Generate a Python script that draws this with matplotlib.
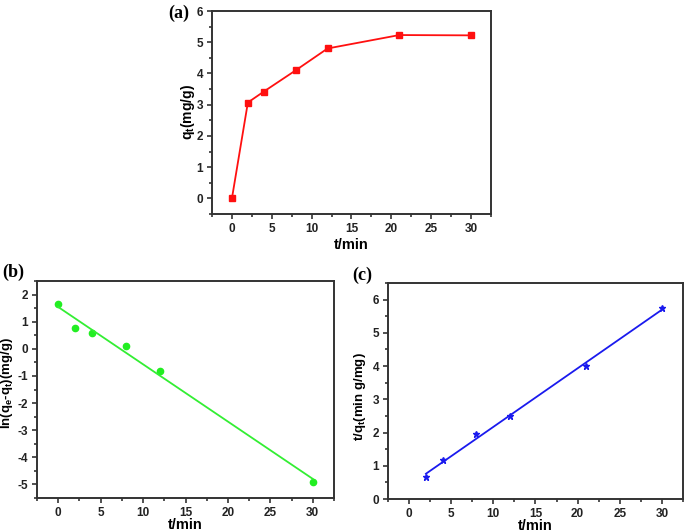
import numpy as np
import matplotlib
matplotlib.use("Agg")
import matplotlib.pyplot as plt
from matplotlib.ticker import MultipleLocator

# Data
t_a = [0, 2, 4, 8, 12, 21, 30]
q_t = [0, 3.07, 3.42, 4.10, 4.80, 5.23, 5.22]

t_b = [0, 2, 4, 8, 12, 30]
ln_qe_qt = [1.65, 0.77, 0.60, 0.12, -0.82, -4.90]

t_c = [2, 4, 8, 12, 21, 30]
t_over_q = [0.65, 1.17, 1.95, 2.50, 4.01, 5.74]

plt.rcParams['font.family'] = ['Liberation Sans', 'DejaVu Sans']
plt.rcParams['font.weight'] = 'bold'
plt.rcParams['axes.unicode_minus'] = False
plt.rcParams['mathtext.fontset'] = 'custom'
plt.rcParams['mathtext.rm'] = 'Liberation Sans:bold'
plt.rcParams['mathtext.bf'] = 'Liberation Sans:bold'

W, H = 685, 532
fig = plt.figure(figsize=(W / 100, H / 100), dpi=100)

def ax_px(l, t, r, b):
    return fig.add_axes([l / W, 1 - b / H, (r - l) / W, (b - t) / H])

def style(ax, xlim, ylim, ymaj, ymin):
    ax.set_xlim(*xlim)
    ax.set_ylim(*ylim)
    ax.xaxis.set_major_locator(MultipleLocator(5))
    ax.xaxis.set_minor_locator(MultipleLocator(2.5))
    ax.yaxis.set_major_locator(MultipleLocator(ymaj))
    ax.yaxis.set_minor_locator(MultipleLocator(ymin))
    ax.tick_params(which='both', direction='out', top=False, right=False,
                   width=1.1, colors='#222222', labelcolor='#222222')
    ax.tick_params(which='major', length=3.5, labelsize=8.5, pad=3)
    ax.tick_params(which='minor', length=2.5)
    for s in ax.spines.values():
        s.set_linewidth(1.4)
        s.set_color('#333333')

def labels(ax, xl, yl, ysize, ylx, yly, xly):
    ax.set_xlabel(xl, fontsize=10.5, fontweight='bold')
    ax.set_ylabel(yl, fontsize=ysize, fontweight='bold')
    ax.yaxis.set_label_coords(ylx, yly)
    ax.xaxis.set_label_coords(0.5, xly)

# (a)
ax1 = ax_px(212, 11, 491, 214)
ax1.plot(t_a, q_t, color='#ff1010', marker='s', markersize=4.5, linewidth=1.3)
style(ax1, (-2.5, 32.5), (-0.5, 6), 1, 0.5)
labels(ax1, 't/min', 'q$_\\mathrm{t}$(mg/g)', 10, -0.055, 0.5, -0.118)
fig.text(168 / W, 1 - 13 / H, '(a)', family=['Liberation Serif'], fontweight='bold',
         fontsize=13, va='center', ha='left')

# (b)
ax2 = ax_px(37, 281, 334, 498)
ax2.plot(t_b, ln_qe_qt, 'o', color='#22ee22', markersize=4.5)
pb = np.polyfit(t_b, ln_qe_qt, 1)
xb = np.array([t_b[0], t_b[-1]])
ax2.plot(xb, np.polyval(pb, xb), color='#33ee33', linewidth=1.3)
style(ax2, (-2.5, 32.5), (-5.5, 2.5), 1, 0.5)
labels(ax2, 't/min', 'ln(q$_\\mathrm{e}$-q$_\\mathrm{t}$)(mg/g)', 9.5, -0.074, 0.53, -0.094)
fig.text(2 / W, 1 - 272 / H, '(b)', family=['Liberation Serif'], fontweight='bold',
         fontsize=13, va='center', ha='left')

# (c)
ax3 = ax_px(388, 283, 683, 499)
ax3.plot(t_c, t_over_q, '*', color='#1a1aee', markersize=5)
pc = np.polyfit(t_c, t_over_q, 1)
xc = np.array([t_c[0], t_c[-1]])
ax3.plot(xc, np.polyval(pc, xc), color='#1a1aee', linewidth=1.3)
style(ax3, (-2.5, 32.5), (0, 6.5), 1, 0.5)
labels(ax3, 't/min', 't/q$_\\mathrm{t}$(min g/mg)', 9.5, -0.067, 0.474, -0.093)
fig.text(352 / W, 1 - 275 / H, '(c)', family=['Liberation Serif'], fontweight='bold',
         fontsize=13, va='center', ha='left')

fig.savefig('out.png', dpi=100)
